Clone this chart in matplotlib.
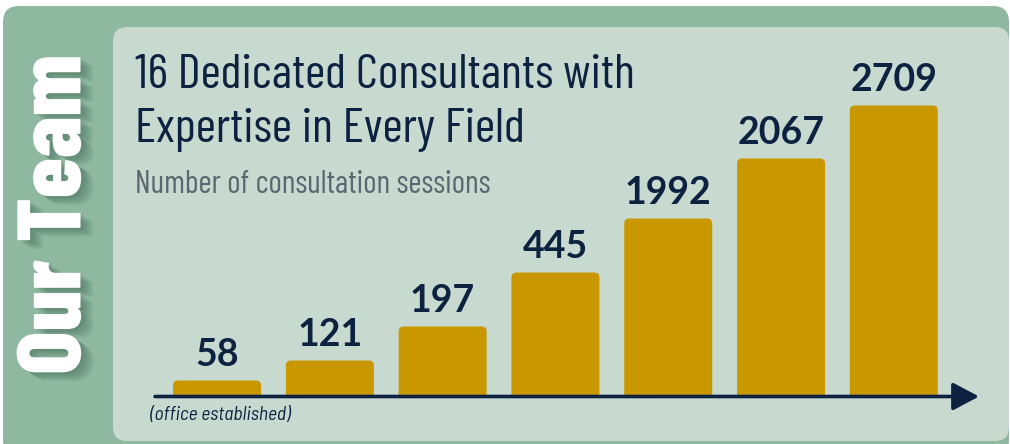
import matplotlib
matplotlib.use("Agg")
import matplotlib.pyplot as plt
from matplotlib.patches import FancyBboxPatch
import matplotlib.patheffects as pe

# data
years = ["Y1", "Y2", "Y3", "Y4", "Y5", "Y6", "Y7"]
sessions = [58, 121, 197, 445, 1992, 2067, 2709]
# the chart does not scale bars linearly, these are the drawn heights (px)
bar_heights = [16, 36, 70, 124, 178, 238, 291]

title_lines = ["16 Dedicated Consultants with", "Expertise in Every Field"]
subtitle = "Number of consultation sessions"
first_note = "(office established)"
side_label = "Our Team"

green = "#8fb8a0"
panel = "#c8d9d0"
gold = "#c99700"
navy = "#0d2240"
grey = "#5b6670"
semi = ["Barlow Semi Condensed", "Roboto Condensed", "DejaVu Sans"]
cond = ["Barlow Condensed", "Roboto Condensed", "DejaVu Sans"]

W, H = 1010, 444
fig = plt.figure(figsize=(W / 100, H / 100), dpi=100)
fig.patch.set_facecolor("white")

# background layer in pixel coords
bg = fig.add_axes([0, 0, 1, 1])
bg.set_xlim(0, W)
bg.set_ylim(H, 0)
bg.axis("off")

bg.add_patch(FancyBboxPatch((3, 6), 1006, 450, boxstyle="round,pad=0,rounding_size=16",
                            fc=green, ec="none"))
bg.add_patch(FancyBboxPatch((113, 27), 896, 414, boxstyle="round,pad=0,rounding_size=14",
                            fc=panel, ec="none"))

shadow = [pe.SimplePatchShadow(offset=(d, -d * 0.7), shadow_rgbFace="#2d5843", alpha=0.09)
          for d in (1.5, 3, 4.5, 6, 7.5, 9)]
bg.text(57, 215, side_label, rotation=90, color="white", fontsize=65,
        fontweight="heavy", family=cond, ha="center", va="center",
        path_effects=shadow + [pe.Normal()])

bg.text(135, 88, title_lines[0], color=navy, fontsize=35.5, family=cond, va="baseline")
bg.text(135, 142, title_lines[1], color=navy, fontsize=35.5, family=cond, va="baseline")
bg.text(135, 193, subtitle, color=grey, fontsize=23, family=cond, va="baseline")
bg.text(150, 420, first_note, color=navy, fontsize=14, family=semi,
        style="italic", va="baseline")

# bar axes: y units are pixels above the baseline
x0, x1, base, top = 155, 979, 396.5, 30
ax = fig.add_axes([x0 / W, (H - base) / H, (x1 - x0) / W, (base - top) / H])
ax.set_xlim(-0.55, -0.55 + (x1 - x0) / 112.8)
ax.set_ylim(0, base - top)
ax.axis("off")

bw = 0.78
r = 5 / 112.8
for i, (h, v) in enumerate(zip(bar_heights, sessions)):
    ax.add_patch(FancyBboxPatch((i - bw / 2, -10), bw, h + 10,
                                boxstyle=f"round,pad=0,rounding_size={r}",
                                mutation_aspect=112.8, fc=gold, ec="none"))
    ax.text(i, h + 15, str(v), ha="center", va="baseline", color=navy,
            fontsize=27, fontweight="bold", family=["Lato", "DejaVu Sans"])

ax.annotate("", xy=(1, 0), xytext=(0, 0), xycoords="axes fraction",
            arrowprops=dict(arrowstyle="-|>,head_length=1.6,head_width=0.85",
                            mutation_scale=10, lw=2.6, color=navy,
                            shrinkA=0, shrinkB=0), annotation_clip=False)

fig.savefig("out.png", dpi=100)
